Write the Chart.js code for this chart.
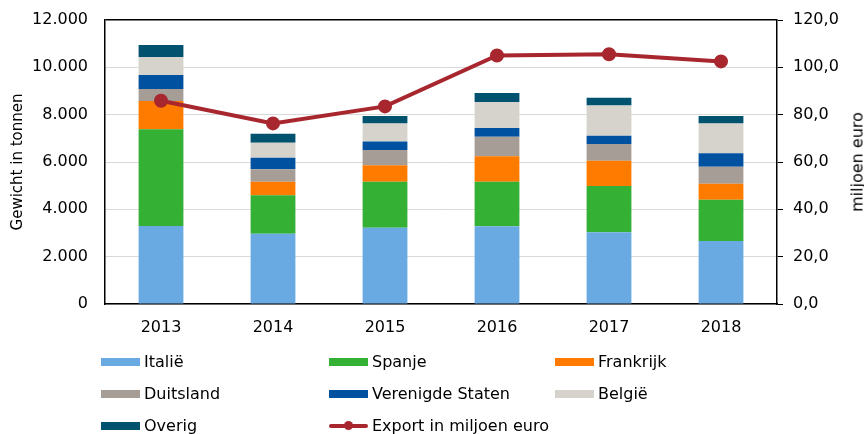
<!DOCTYPE html>
<html>
<head>
<meta charset="utf-8">
<script src="https://cdn.jsdelivr.net/npm/chart.js@4/dist/chart.umd.min.js"></script>
<style>
  html, body { margin: 0; padding: 0; background: #fff; }
  #wrap { position: relative; width: 864px; height: 434px; overflow: hidden; font-family: "DejaVu Sans", sans-serif; }
  #chart { position: absolute; left: 0; top: 0; }
  .lg { position: absolute; font-size: 16px; color: #000; white-space: nowrap; line-height: 18px; }
  .lg i { display: inline-block; width: 39px; height: 8px; vertical-align: middle; margin-right: 4px; position: relative; top: -1px; }
  .lg i.ln { height: 4px; border-radius: 2px; }
  .lg i.ln:after { content: ""; position: absolute; left: 15px; top: -3px; width: 9px; height: 9px; border-radius: 50%; background: #a8272e; }
  #rtitle { position: absolute; font-size: 16px; color: #000; transform: translate(-50%, -50%) rotate(-90deg); left: 857px; top: 162px; white-space: nowrap; }
</style>
</head>
<body>
<div id="wrap">
  <canvas id="chart" width="864" height="434"></canvas>
  <div id="rtitle">miljoen euro</div>
  <div id="legend"></div>
</div>
<script>
// jaren
const years = ["2013", "2014", "2015", "2016", "2017", "2018"];

// gewicht in tonnen per land
const italie = [3300, 2970, 3225, 3280, 3030, 2660];
const spanje = [4085, 1620, 1945, 1890, 1955, 1745];
const frankrijk = [1195, 580, 690, 1070, 1070, 675];
const duitsland = [505, 520, 650, 830, 705, 720];
const verenigdeStaten = [595, 490, 360, 365, 350, 565];
const belgie = [745, 635, 760, 1100, 1280, 1265];
const overig = [520, 380, 310, 380, 330, 310];

// export in miljoen euro
const exportWaarde = [85.9, 76.3, 83.5, 105.0, 105.5, 102.5];

const countryNames = ["Italië", "Spanje", "Frankrijk", "Duitsland", "Verenigde Staten", "België", "Overig"];
const countryData = [italie, spanje, frankrijk, duitsland, verenigdeStaten, belgie, overig];
const countryColors = ["#6aaae2", "#34b034", "#ff7b00", "#a59d96", "#0052a0", "#d6d3cd", "#00526f"];
const lineName = "Export in miljoen euro";
const lineColor = "#a8272e";

const font = { family: "'DejaVu Sans', sans-serif", size: 16 };

function formatTonnen(v) {
  return String(v).replace(/\B(?=(\d{3})+(?!\d))/g, ".");
}

const datasets = [
  {
    type: "line",
    label: lineName,
    data: exportWaarde,
    yAxisID: "y1",
    borderColor: lineColor,
    backgroundColor: lineColor,
    borderWidth: 4,
    pointRadius: 5,
    pointBackgroundColor: lineColor,
    tension: 0,
    order: 0,
  },
];
countryNames.forEach((name, i) => {
  datasets.push({
    type: "bar",
    label: name,
    data: countryData[i],
    backgroundColor: countryColors[i],
    yAxisID: "y",
    stack: "land",
    categoryPercentage: 1,
    barPercentage: 0.4,
    order: 1,
  });
});

Chart.defaults.font = font;
Chart.defaults.color = "#000";

new Chart(document.getElementById("chart"), {
  data: { labels: years, datasets: datasets },
  options: {
    responsive: false,
    animation: false,
    layout: { padding: { top: 20, left: 0, right: 0, bottom: 0 } },
    plugins: { legend: { display: false }, tooltip: { enabled: false } },
    scales: {
      x: {
        stacked: true,
        grid: { display: false, drawTicks: false },
        border: { color: "#000", width: 1.5 },
        ticks: { padding: 14, font: font },
        afterFit: (s) => { s.height = 130; },
      },
      y: {
        stacked: true,
        position: "left",
        min: 0,
        max: 12000,
        ticks: { stepSize: 2000, padding: 3, font: font, callback: (v) => formatTonnen(v) },
        grid: {
          drawTicks: true,
          tickLength: 14,
          tickColor: "rgba(0,0,0,0)",
          color: (c) => (c.tick && c.tick.value === 12000 ? "#000" : "#d9d9d9"),
          lineWidth: (c) => (c.tick && c.tick.value === 12000 ? 1.5 : 1),
        },
        border: { color: "#000", width: 1.5 },
        title: { display: true, text: "Gewicht in tonnen", font: { family: font.family, size: 15 }, padding: { top: 9, bottom: 0 } },
        afterFit: (s) => { s.width = 105; },
      },
      y1: {
        position: "right",
        min: 0,
        max: 120,
        ticks: { stepSize: 20, padding: 10, font: font, callback: (v) => v.toFixed(1).replace(".", ",") },
        grid: { drawOnChartArea: false, drawTicks: true, tickLength: 6, tickColor: "#000" },
        border: { color: "#000", width: 1.5 },
        afterFit: (s) => { s.width = 87; },
      },
    },
  },
});

// legenda in drie kolommen
const legendItems = countryNames.map((n, i) => ({ name: n, color: countryColors[i], line: false }));
legendItems.push({ name: lineName, color: lineColor, line: true });
const colX = [101, 329, 555];
const rowY = [362, 394, 426];
const legend = document.getElementById("legend");
legendItems.forEach((item, i) => {
  const el = document.createElement("div");
  el.className = "lg";
  el.style.left = colX[i % 3] + "px";
  el.style.top = (rowY[Math.floor(i / 3)] - 9) + "px";
  el.innerHTML = '<i class="' + (item.line ? "ln" : "") + '" style="background:' + item.color + '"></i>' + item.name;
  legend.appendChild(el);
});
</script>
</body>
</html>
